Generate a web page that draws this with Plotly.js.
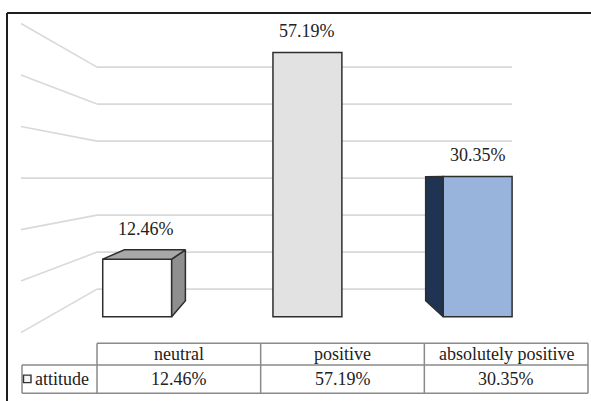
<!DOCTYPE html>
<html>
<head>
<meta charset="utf-8">
<script src="https://cdn.plot.ly/plotly-3.0.1.min.js"></script>
<style>
  html, body { margin: 0; padding: 0; background: #ffffff; }
  #chart { width: 591px; height: 401px; }
</style>
</head>
<body>
<div id="chart"></div>
<script>
// ---- data ----
const categories = ['neutral', 'positive', 'absolutely positive'];
const values = [12.46, 57.19, 30.35];
const seriesName = 'attitude';
const wallLevels = [10, 20, 30, 40, 50, 60, 70];

// ---- styling ----
const frontColors = ['#ffffff', '#e2e2e2', '#98b4dc'];
const sideColors = ['#8f8f8f', '#8f8f8f', '#1f3452'];
const topColors = ['#a8a8a8', '#cfcfcf', '#6f8fb8'];
const edgeColor = '#2e2e2e';
const gridColor = '#d9d9d9';
const font = () => ({ family: 'Liberation Serif', size: 18, color: '#222222' });

// ---- geometry (x: one unit per category slot, y: percent) ----
const W = 591, H = 401;
const xRange = [-0.806, 2.666];
const yRange = [-18.25, 68.55];
const barWidth = 0.405;
// simple perspective: every bar recedes toward a vanishing point
const vanish = { x: 0.904, y: 30.0 };
const depth = 0.115;
// walls: the level at wallPivot lies on the horizon; back wall is smaller, left front edge larger
const wallPivot = 40, backScale = 0.801, frontScale = 1.115;
const wallFrontX = -0.683, wallBackX = -0.236, wallRightX = 2.202;

function recede(x, y) {
  return [x + depth * (vanish.x - x), y + depth * (vanish.y - y)];
}

// perspective walls drawn underneath the bars
const shapes = [];
wallLevels.forEach(w => {
  const yBack = vanish.y + backScale * (w - wallPivot);
  const yFront = vanish.y + frontScale * (w - wallPivot);
  shapes.push({ type: 'line', layer: 'below', xref: 'x', yref: 'y',
    x0: wallFrontX, y0: yFront, x1: wallBackX, y1: yBack,
    line: { color: gridColor, width: 1.6 } });
  shapes.push({ type: 'line', layer: 'below', xref: 'x', yref: 'y',
    x0: wallBackX, y0: yBack, x1: wallRightX, y1: yBack,
    line: { color: gridColor, width: 1.6 } });
});

// front faces of the boxes
const positions = categories.map((c, i) => i);
const traces = [{
  type: 'bar',
  x: positions,
  y: values,
  base: 0,
  width: barWidth,
  marker: { color: frontColors, line: { color: edgeColor, width: 1.5 } },
  hoverinfo: 'skip',
  showlegend: false
}];

// visible side and top faces
function face(pts, color) {
  return {
    type: 'scatter', mode: 'lines', fill: 'toself',
    x: pts.map(p => p[0]).concat([pts[0][0]]),
    y: pts.map(p => p[1]).concat([pts[0][1]]),
    fillcolor: color,
    line: { color: edgeColor, width: 1.5 },
    hoverinfo: 'skip', showlegend: false
  };
}
values.forEach((v, i) => {
  const xl = i - barWidth / 2, xr = i + barWidth / 2;
  const fl0 = [xl, 0], fl1 = [xl, v], fr0 = [xr, 0], fr1 = [xr, v];
  const bl0 = recede(xl, 0), bl1 = recede(xl, v), br0 = recede(xr, 0), br1 = recede(xr, v);
  if (br0[0] > xr) traces.push(face([fr0, fr1, br1, br0], sideColors[i]));
  if (bl0[0] < xl) traces.push(face([fl0, fl1, bl1, bl0], sideColors[i]));
  if (bl1[1] > v) traces.push(face([fl1, fr1, br1, bl1], topColors[i]));
});

// value labels above each box
const annotations = values.map((v, i) => {
  const back = recede(i, v);
  const topVisible = back[1] > v;
  return {
    xref: 'x', yref: 'y',
    x: topVisible ? (i + back[0]) / 2 : i,
    y: Math.max(v, back[1]),
    text: v.toFixed(2) + '%',
    showarrow: false, yanchor: 'middle', yshift: 21,
    font: font()
  };
});

// data table under the plot
const px = x => x / W, py = y => 1 - y / H;
const table = { left: 22, first: 97, right: 588, top: 343.3, mid: 365, bottom: 393.3 };
const tableLine = { color: '#8a8a8a', width: 1.5 };
const colW = (table.right - table.first) / categories.length;
function pline(x0, y0, x1, y1, line) {
  return { type: 'line', xref: 'paper', yref: 'paper', x0: px(x0), y0: py(y0), x1: px(x1), y1: py(y1), line: line };
}
shapes.push(pline(table.first, table.top, table.right, table.top, tableLine));
shapes.push(pline(table.left, table.mid, table.right, table.mid, tableLine));
shapes.push(pline(table.left, table.bottom, table.right, table.bottom, tableLine));
shapes.push(pline(table.left, table.mid, table.left, table.bottom, tableLine));
for (let k = 0; k <= categories.length; k++) {
  const xc = table.first + k * colW;
  shapes.push(pline(xc, table.top, xc, table.bottom, tableLine));
}
categories.forEach((c, i) => {
  const xc = table.first + (i + 0.5) * colW;
  annotations.push({ xref: 'paper', yref: 'paper', x: px(xc), y: py((table.top + table.mid) / 2),
    text: c, showarrow: false, xanchor: 'center', yanchor: 'middle', font: font() });
  annotations.push({ xref: 'paper', yref: 'paper', x: px(xc), y: py((table.mid + table.bottom) / 2),
    text: values[i].toFixed(2) + '%', showarrow: false, xanchor: 'center', yanchor: 'middle', font: font() });
});
// legend key and series name in the row header
const keyMid = (table.mid + table.bottom) / 2;
shapes.push({ type: 'rect', xref: 'paper', yref: 'paper',
  x0: px(23.5), x1: px(31), y0: py(keyMid - 4), y1: py(keyMid + 3.5),
  fillcolor: '#f4f4f4', line: { color: '#333333', width: 1.4 } });
annotations.push({ xref: 'paper', yref: 'paper', x: px(32.5), y: py(keyMid),
  text: seriesName, showarrow: false, xanchor: 'left', yanchor: 'middle', font: font() });

// chart frame (left and top edges)
const frame = { color: '#1e1e1e', width: 2 };
shapes.push(pline(7, 13, 7, H, frame));
shapes.push(pline(7, 13, W, 13, frame));

const layout = {
  width: W, height: H,
  margin: { l: 0, r: 0, t: 0, b: 0 },
  font: { family: 'Liberation Serif' },
  paper_bgcolor: '#ffffff', plot_bgcolor: '#ffffff',
  showlegend: false,
  xaxis: { range: xRange, visible: false, showgrid: false, zeroline: false, fixedrange: true },
  yaxis: { range: yRange, visible: false, showgrid: false, zeroline: false, fixedrange: true },
  shapes: shapes,
  annotations: annotations
};

Plotly.newPlot('chart', traces, layout, { staticPlot: true, displayModeBar: false });
</script>
</body>
</html>
